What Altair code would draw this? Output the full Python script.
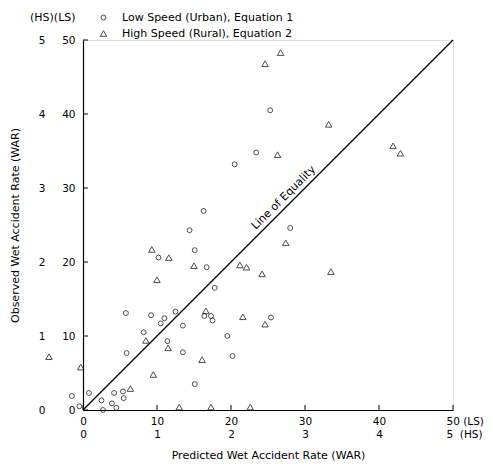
import altair as alt
import pandas as pd

# ---- data ----
# Low speed (urban) sites, plotted on the LS scale (0-50)
ls_pred = [-1.5, -0.5, 0.8, 2.5, 2.7, 3.9, 4.2, 4.5, 5.4, 5.5, 5.8, 5.9, 8.2, 9.2,
           10.2, 10.5, 11.0, 11.4, 12.5, 13.5, 13.5, 14.4, 15.1, 15.1, 16.3, 16.7,
           16.4, 17.3, 17.5, 17.8, 19.5, 20.2, 20.5, 23.4, 25.3, 28.0, 25.4]
ls_obs = [1.9, 0.5, 2.3, 1.3, 0.0, 0.9, 2.3, 0.3, 2.5, 1.6, 13.1, 7.7, 10.5, 12.8,
          20.6, 11.7, 12.4, 9.3, 13.3, 11.4, 7.8, 24.3, 21.6, 3.5, 26.9, 19.3,
          12.7, 12.7, 12.1, 16.5, 10.0, 7.3, 33.2, 34.8, 40.5, 24.6, 12.5]
# High speed (rural) sites, in HS units (0-5)
hs_pred = [-0.46, -0.03, 0.64, 0.85, 0.93, 0.95, 1.00, 1.16, 1.15, 1.30, 1.50, 1.61,
           1.66, 1.73, 2.12, 2.21, 2.42, 2.16, 2.46, 2.74, 2.63, 2.46, 2.67, 3.32,
           3.35, 4.19, 4.29, 2.26]
hs_obs = [0.72, 0.58, 0.29, 0.94, 2.17, 0.48, 1.76, 2.06, 0.84, 0.04, 1.95, 0.68,
          1.34, 0.04, 1.96, 1.93, 1.84, 1.26, 1.16, 2.26, 3.45, 4.68, 4.83, 3.86,
          1.87, 3.57, 3.47, 0.04]
hs_to_ls = 10  # HS scale is one tenth of the LS scale

ls_ticks = [0, 10, 20, 30, 40, 50]
legend_labels = ["Low Speed (Urban), Equation 1", "High Speed (Rural), Equation 2"]
x_title = "Predicted Wet Accident Rate (WAR)"
y_title = "Observed Wet Accident Rate (WAR)"
header = "(HS)(LS)"
eq_label = "Line of Equality"
eq_ends = [0, 50]
eq_label_pos = 27.9

FONT = "DejaVu Sans"

pts = pd.DataFrame({
    "pred": ls_pred + [v * hs_to_ls for v in hs_pred],
    "obs": ls_obs + [v * hs_to_ls for v in hs_obs],
    "group": [legend_labels[0]] * len(ls_pred) + [legend_labels[1]] * len(hs_pred),
})
eq = pd.DataFrame({"x": [eq_ends[0]], "y": [eq_ends[0]], "x2": [eq_ends[1]], "y2": [eq_ends[1]]})
eq_text = pd.DataFrame({"x": [eq_label_pos], "y": [eq_label_pos], "t": [eq_label]})
ticks = pd.DataFrame({"v": ls_ticks})

xs = alt.Scale(domain=[0, 50], nice=False, zero=False)
ys = alt.Scale(domain=[0, 50], nice=False, zero=False)

x_axis = alt.Axis(
    values=ls_ticks, ticks=False, grid=False, domainColor="black", domainWidth=1.2,
    labelExpr="datum.value == 50 ? ['50 (LS)', '\u00a05\u00a0\u00a0(HS)'] : [datum.label, format(datum.value / 10, 'd')]",
    labelAlign={"condition": {"test": "datum.value == 50", "value": "left"}, "value": "center"},
    labelOffset={"condition": {"test": "datum.value == 50", "value": -7}, "value": 0},
    labelPadding=6, labelLineHeight=13, labelFont=FONT, labelFontSize=10.5, labelColor="black",
    labelOverlap=False, labelFlush=False,
    title=x_title, titleFont=FONT, titleFontSize=11, titleFontWeight="normal", titleColor="black",
    titlePadding=10,
)
y_axis = alt.Axis(
    values=ls_ticks, ticks=False, grid=False, domainColor="black", domainWidth=1.2,
    labelExpr="format(datum.value / 10, 'd') + '\u2007\u2007\u00a0' + (datum.value < 10 ? '\u2007' : '') + datum.label",
    labelPadding=8, labelFont=FONT, labelFontSize=10.5, labelColor="black",
    labelOverlap=False, labelFlush=False,
    title=y_title, titleFont=FONT, titleFontSize=11, titleFontWeight="normal", titleColor="black",
    titlePadding=18,
)

legend = alt.Legend(
    orient="none", legendX=-53, legendY=-28, padding=0,
    title=header, titleOrient="left", titleAnchor="start", titleFont=FONT, titleFontSize=11,
    titleFontWeight="normal", titleColor="black", titlePadding=22, titleBaseline="top",
    labelFont=FONT, labelFontSize=11, labelColor="black", labelOffset=13,
    labelLimit=400, symbolStrokeColor="black", symbolStrokeWidth=1,
    symbolFillColor="transparent", rowPadding=4,
)

points = alt.Chart(pts).mark_point(filled=False, color="black", strokeWidth=1).encode(
    x=alt.X("pred:Q", scale=xs, axis=x_axis),
    y=alt.Y("obs:Q", scale=ys, axis=y_axis),
    shape=alt.Shape(
        "group:N",
        scale=alt.Scale(domain=legend_labels, range=["circle", "triangle-up"]),
        legend=legend,
    ),
    size=alt.Size("group:N", scale=alt.Scale(domain=legend_labels, range=[24, 42]), legend=legend),
)

line = alt.Chart(eq).mark_rule(color="black", strokeWidth=1.2).encode(
    x=alt.X("x:Q", scale=xs, axis=x_axis), y=alt.Y("y:Q", scale=ys, axis=y_axis),
    x2="x2:Q", y2="y2:Q",
)

label = alt.Chart(eq_text).mark_text(
    angle=315, baseline="bottom", align="center", dy=-3, font=FONT, fontSize=11, color="black"
).encode(
    x=alt.X("x:Q", scale=xs, axis=x_axis), y=alt.Y("y:Q", scale=ys, axis=y_axis), text="t:N"
)

xticks = alt.Chart(ticks).mark_rule(color="black", strokeWidth=1).encode(
    x=alt.X("v:Q", scale=xs, axis=x_axis), y=alt.value(370), y2=alt.value(365)
)
yticks = alt.Chart(ticks).mark_rule(color="black", strokeWidth=1).encode(
    y=alt.Y("v:Q", scale=ys, axis=y_axis), x=alt.value(0), x2=alt.value(5)
)

chart = alt.layer(points, line, label, xticks, yticks).properties(
    width=370, height=370,
    autosize=alt.AutoSizeParams(type="none"),
    padding={"left": 75, "top": 32, "right": 32, "bottom": 54},
).configure_view(stroke=None).configure(background="white")

chart.save("out.html", embed_options={"renderer": "svg", "actions": False})
